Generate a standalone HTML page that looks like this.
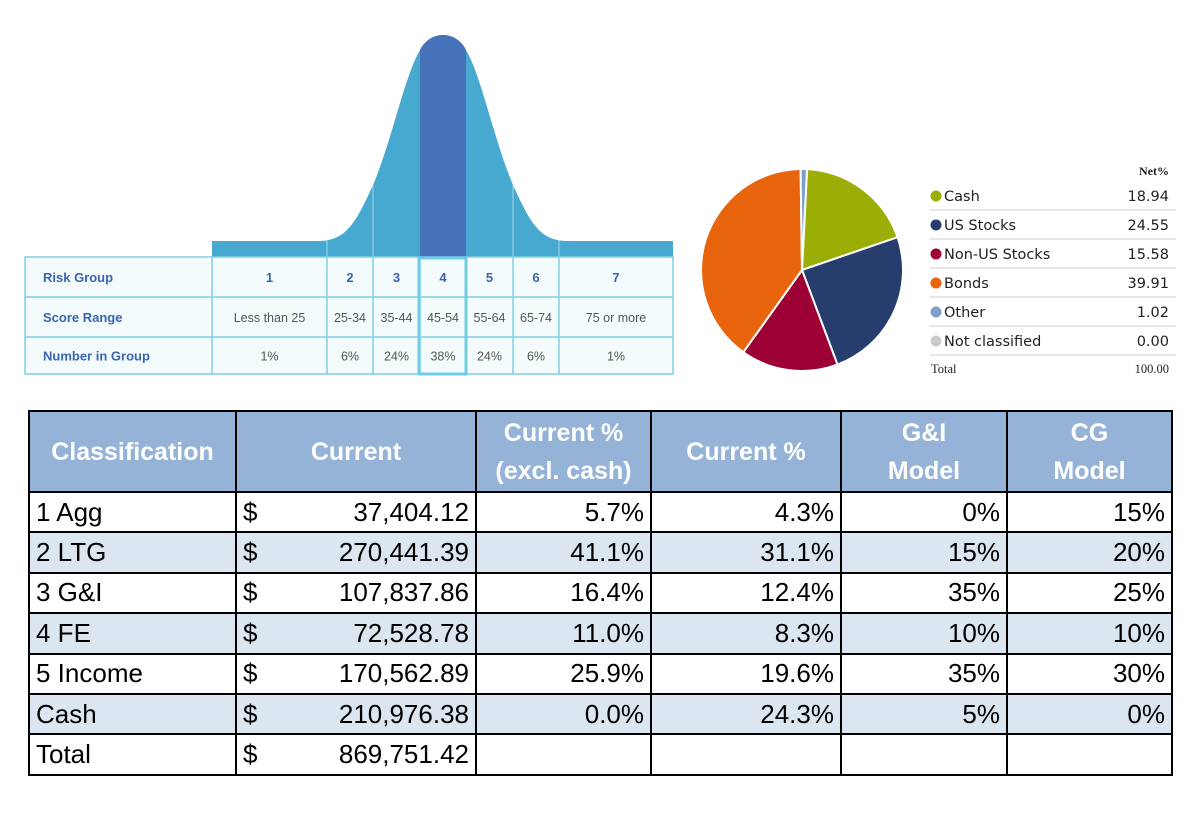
<!DOCTYPE html>
<html><head><meta charset="utf-8">
<style>
body{margin:0;width:1200px;height:816px;background:#fff;position:relative;overflow:hidden;font-family:"Liberation Sans",sans-serif}
svg{position:absolute;left:0;top:0}
#tbl{position:absolute;left:28px;top:410px;border-collapse:collapse;table-layout:fixed}
#tbl td,#tbl th{border:2px solid #000;padding:0 6px;font-size:26px;height:38.4px;white-space:nowrap}
#tbl th{background:#95b3d7;color:#fff;font-weight:bold;font-size:25px;height:79px;line-height:38px;text-align:center}
#tbl td.r{text-align:right}
#tbl tr.alt td{background:#dce6f1}
.d{display:flex;justify-content:space-between}
</style></head><body>
<svg width="1200" height="816">
  <g id="bell">
    <rect x="212" y="241" width="461" height="16" fill="#47a8d0"/>
    <path d="M212,241 L318,241 C345,241 355,225 373,185 C392,140 405,75 420,50 C430,30 456,30 466,50 C481,75 494,140 513,185 C531,225 541,241 568,241 L673,241 L673,257 L212,257 Z" fill="#47a8d0"/>
    <path d="M420,50 C430,30 456,30 466,50 L466,257 L420,257 Z" fill="#4672b9"/>
    <g stroke="#ffffff" stroke-opacity="0.5" stroke-width="1">
      <line x1="327" y1="236" x2="327" y2="257"/><line x1="373" y1="185" x2="373" y2="257"/>
      <line x1="513" y1="185" x2="513" y2="257"/><line x1="559" y1="236" x2="559" y2="257"/>
    </g>
  </g>
  <g id="riskTable"></g>
  <g id="pie"></g>
  <g id="legend"></g>
</svg>

<table id="tbl">
<colgroup><col style="width:207px"><col style="width:240px"><col style="width:175px"><col style="width:190px"><col style="width:166px"><col style="width:165px"></colgroup>
<tr><th>Classification</th><th>Current</th><th>Current %<br>(excl. cash)</th><th>Current %</th><th>G&amp;I<br>Model</th><th>CG<br>Model</th></tr>
<tr><td>1 Agg</td><td><div class="d"><span>$</span><span>37,404.12</span></div></td><td class="r">5.7%</td><td class="r">4.3%</td><td class="r">0%</td><td class="r">15%</td></tr>
<tr class="alt"><td>2 LTG</td><td><div class="d"><span>$</span><span>270,441.39</span></div></td><td class="r">41.1%</td><td class="r">31.1%</td><td class="r">15%</td><td class="r">20%</td></tr>
<tr><td>3 G&amp;I</td><td><div class="d"><span>$</span><span>107,837.86</span></div></td><td class="r">16.4%</td><td class="r">12.4%</td><td class="r">35%</td><td class="r">25%</td></tr>
<tr class="alt"><td>4 FE</td><td><div class="d"><span>$</span><span>72,528.78</span></div></td><td class="r">11.0%</td><td class="r">8.3%</td><td class="r">10%</td><td class="r">10%</td></tr>
<tr><td>5 Income</td><td><div class="d"><span>$</span><span>170,562.89</span></div></td><td class="r">25.9%</td><td class="r">19.6%</td><td class="r">35%</td><td class="r">30%</td></tr>
<tr class="alt"><td>Cash</td><td><div class="d"><span>$</span><span>210,976.38</span></div></td><td class="r">0.0%</td><td class="r">24.3%</td><td class="r">5%</td><td class="r">0%</td></tr>
<tr><td>Total</td><td><div class="d"><span>$</span><span>869,751.42</span></div></td><td></td><td></td><td></td><td></td></tr>
</table>

<script>
const riskGroups = ['1','2','3','4','5','6','7'];
const scoreRanges = ['Less than 25','25-34','35-44','45-54','55-64','65-74','75 or more'];
const groupShares = ['1%','6%','24%','38%','24%','6%','1%'];
const pieLabels = ['Cash','US Stocks','Non-US Stocks','Bonds','Other','Not classified'];
const pieValues = [18.94,24.55,15.58,39.91,1.02,0.00];
const pieColors = ['#9bae06','#263d6e','#9c0034','#e8650e','#7f9fcb','#cccccc'];

const NS='http://www.w3.org/2000/svg';
function mk(tag,attrs,parent){const e=document.createElementNS(NS,tag);for(const k in attrs)e.setAttribute(k,attrs[k]);parent.appendChild(e);return e;}

const rt=document.getElementById('riskTable');
const colX=[25,212,327,373,420,466,513,559,673];
const rowY=[257,297,337,374];
mk('rect',{x:25,y:257,width:648,height:117,fill:'#f3fbfd',stroke:'#7fd0e3','stroke-width':1.5},rt);
colX.slice(1,-1).forEach(x=>mk('line',{x1:x,y1:257,x2:x,y2:374,stroke:'#7fd0e3','stroke-width':1.5},rt));
[297,337].forEach(y=>mk('line',{x1:25,y1:y,x2:673,y2:y,stroke:'#7fd0e3','stroke-width':1.5},rt));
const rowHdr=['Risk Group','Score Range','Number in Group'];
rowHdr.forEach((t,i)=>{const e=mk('text',{x:43,y:(rowY[i]+rowY[i+1])/2+5,'font-size':13,'font-weight':'bold',fill:'#3a64b0'},rt);e.textContent=t;

});
[riskGroups,scoreRanges,groupShares].forEach((arr,r)=>{arr.forEach((t,c)=>{
  const e=mk('text',{x:(colX[c+1]+colX[c+2])/2,y:(rowY[r]+rowY[r+1])/2+5,'font-size':r===0?13:12.5,'font-weight':r===0?'bold':'normal',fill:r===0?'#3a64b0':'#555','text-anchor':'middle'},rt);
  e.textContent=t;
  
  
});});
const hl=mk('rect',{x:419,y:258,width:47,height:116,fill:'none',stroke:'#6fcde3','stroke-width':3},rt);



const pg=document.getElementById('pie');
const cx=802,cy=270,R=101;
const total=pieValues.reduce((a,b)=>a+b,0);
let a0=0.8/100*2*Math.PI;
pieValues.forEach((v,i)=>{
  if(v<=0)return;
  const a1=a0+v/total*2*Math.PI;
  const x0=cx+R*Math.sin(a0),y0=cy-R*Math.cos(a0),x1=cx+R*Math.sin(a1),y1=cy-R*Math.cos(a1);
  const p=mk('path',{d:`M${cx},${cy} L${x0},${y0} A${R},${R} 0 ${a1-a0>Math.PI?1:0} 1 ${x1},${y1} Z`,fill:pieColors[i],stroke:'#fff','stroke-width':2},pg);
  
  
  a0=a1;
});

const lg=document.getElementById('legend');
const h=mk('text',{x:1169,y:175,'font-size':12,'font-weight':'bold','text-anchor':'end','font-family':'Liberation Serif, serif',fill:'#222'},lg);h.textContent='Net%';
pieLabels.forEach((t,i)=>{
  const y=196+i*29;
  const c=mk('circle',{cx:936,cy:y,r:5.5,fill:pieColors[i]},lg);
  
  
  const l=mk('text',{x:944,y:y+5,'font-size':14.5,fill:'#222','font-family':'DejaVu Sans, sans-serif'},lg);l.textContent=t;
  
  
  const v=mk('text',{x:1169,y:y+5,'font-size':14.5,fill:'#222','text-anchor':'end','font-family':'DejaVu Sans, sans-serif'},lg);v.textContent=pieValues[i].toFixed(2);
  
  
  mk('line',{x1:930,y1:y+14,x2:1176,y2:y+14,stroke:'#ccc','stroke-width':1},lg);
});
const tl=mk('text',{x:931,y:373,'font-size':12.5,'font-family':'Liberation Serif, serif',fill:'#222'},lg);tl.textContent='Total';
const tv=mk('text',{x:1169,y:373,'font-size':12.5,'text-anchor':'end','font-family':'Liberation Serif, serif',fill:'#222'},lg);tv.textContent=total.toFixed(2);
</script>
</body></html>
